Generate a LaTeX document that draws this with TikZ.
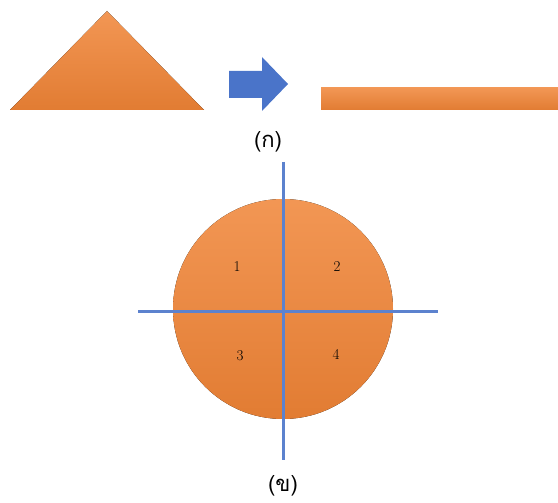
\documentclass[tikz,border=0pt]{standalone}
\usepackage{fontspec}
\usepackage{tikz}
\usetikzlibrary{positioning}
\newfontfamily\thaifont[Script=Thai]{Loma}
\definecolor{shapeorange}{HTML}{F08436}
\definecolor{shapeblue}{HTML}{4A74C9}

\begin{document}
\begin{tikzpicture}[
      x=1pt,y=-1pt,
      piece/.style={top color=shapeorange!85!white,bottom color=shapeorange!94!black,draw=none},
      axis/.style={draw=shapeblue!90!white,line width=3pt},
      caption/.style={font=\thaifont\fontsize{22}{25}\selectfont,inner sep=0pt},
      quarter/.style={font=\fontsize{15}{17}\selectfont,inner sep=0pt}
    ]
      \useasboundingbox (0,0) rectangle (558,503);
      % (ก) triangle turned into a bar
      \fill[piece] (10,110) -- (107,11) -- (204,110) -- cycle;
      \fill[shapeblue] (229,71) -- (262,71) -- (262,57) -- (288,84) -- (262,111)
        -- (262,98) -- (229,98) -- cycle;
      \fill[piece] (321,88) rectangle (558,110);
      \node[caption] (capa) at (268,142) {(ก)};
      % (ข) circle cut in four
      \coordinate (centre) at (283,309);
      \fill[piece] (centre) circle[radius=110];
      \coordinate (vtop) at (283,162);
      \coordinate (vbot) at (283,460);
      \coordinate (hleft) at (138,311);
      \coordinate (hright) at (438,311);
      \draw[axis] (vtop) -- (vbot);
      \draw[axis] (hleft) -- (hright);
      \node[quarter] (q1) at (237,267) {1};
      \node[quarter] (q2) at (337,267) {2};
      \node[quarter] (q3) at (240,356) {3};
      \node[quarter] (q4) at (336,354) {4};
      \node[caption] (capb) at (283,486) {(ข)};
    \end{tikzpicture}
\end{document}
